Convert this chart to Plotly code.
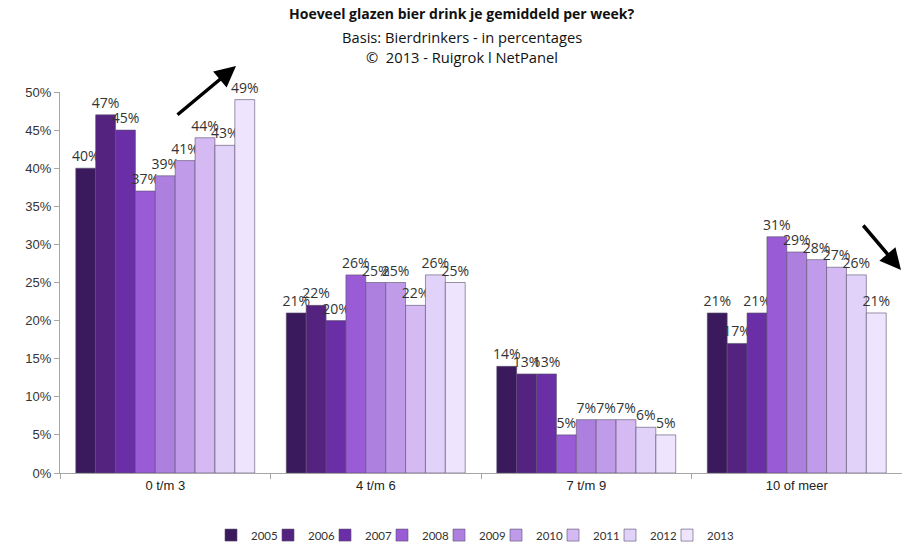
import plotly.graph_objects as go

categories = ["0 t/m 3", "4 t/m 6", "7 t/m 9", "10 of meer"]
years = ["2005", "2006", "2007", "2008", "2009", "2010", "2011", "2012", "2013"]
v2005 = [40, 21, 14, 21]
v2006 = [47, 22, 13, 17]
v2007 = [45, 20, 13, 21]
v2008 = [37, 26, 5, 31]
v2009 = [39, 25, 7, 29]
v2010 = [41, 25, 7, 28]
v2011 = [44, 22, 7, 27]
v2012 = [43, 26, 6, 26]
v2013 = [49, 25, 5, 21]
series = [v2005, v2006, v2007, v2008, v2009, v2010, v2011, v2012, v2013]
colors = ["#3a1a5c", "#53237f", "#6a2ea6", "#9a5cd6", "#ad80e0",
          "#c09be9", "#d5b9f3", "#e1d2fa", "#eee4fd"]
y_ticks = [0, 5, 10, 15, 20, 25, 30, 35, 40, 45, 50]

fig = go.Figure()
for yr, vals, col in zip(years, series, colors):
    fig.add_trace(go.Bar(
        name=yr, x=categories, y=vals,
        marker=dict(color=col, line=dict(color="rgba(90,80,110,0.6)", width=1)),
        text=[f"{v}%" for v in vals], textposition="outside",
        textfont=dict(family="Open Sans, Lato, sans-serif", size=14, color="#333333"),
        constraintext="none", cliponaxis=False,
    ))
# spacer entry so the last legend label is not clipped
fig.add_trace(go.Scatter(x=[None], y=[None], mode="markers", name=" ",
                         marker=dict(color="rgba(0,0,0,0)"), hoverinfo="skip"))

fig.update_layout(
    width=902, height=543,
    margin=dict(l=60, r=0, t=92, b=70, autoexpand=False),
    barmode="group", bargap=0.15, bargroupgap=0,
    plot_bgcolor="white", paper_bgcolor="white",
    font=dict(family="Open Sans, sans-serif", color="#333333"),
    xaxis=dict(showline=True, linecolor="#a6a6a6", linewidth=1,
               ticks="outside", tickson="boundaries", ticklen=5, tickcolor="#a6a6a6",
               tickfont=dict(family="Liberation Sans, Arial, sans-serif", size=13, color="#222222"),
               showgrid=False, automargin=False),
    yaxis=dict(range=[0, 50], tickvals=y_ticks, ticktext=[f"{t}%" for t in y_ticks],
               showline=True, linecolor="#a6a6a6", linewidth=1,
               ticks="outside", ticklen=5, tickcolor="#a6a6a6",
               tickfont=dict(family="Liberation Sans, Arial, sans-serif", size=13, color="#333333"),
               showgrid=False, zeroline=False, automargin=False),
    legend=dict(orientation="h", x=(211 - 60) / 842, xanchor="left", y=-0.163, yanchor="middle",
                font=dict(family="Lato, sans-serif", size=11.5, color="#333333"),
                itemwidth=30, entrywidth=12, traceorder="normal"),
    showlegend=True,
)

cx = (462 - 60) / 842
fig.add_annotation(xref="paper", yref="paper", x=cx, y=1 + (92 - 14) / 381,
                   text="<b>Hoeveel glazen bier drink je gemiddeld per week?</b>",
                   showarrow=False, font=dict(size=14, color="#111111"), xanchor="center", yanchor="middle")
fig.add_annotation(xref="paper", yref="paper", x=cx, y=1 + (92 - 37) / 381,
                   text="Basis: Bierdrinkers - in percentages",
                   showarrow=False, font=dict(size=14.7, color="#111111"), xanchor="center", yanchor="middle")
fig.add_annotation(xref="paper", yref="paper", x=cx, y=1 + (92 - 57) / 381,
                   text="©  2013 - Ruigrok l NetPanel",
                   showarrow=False, font=dict(size=14.7, color="#111111"), xanchor="center", yanchor="middle")

# trend arrows
fig.add_annotation(xref="paper", yref="paper", x=(236 - 60) / 842, y=(473 - 66) / 381,
                   ax=-60, ay=50, text="", showarrow=True, arrowhead=2, arrowsize=1.2,
                   arrowwidth=3.5, arrowcolor="black")
fig.add_annotation(xref="paper", yref="paper", x=(904 - 60) / 842, y=(473 - 270) / 381,
                   ax=-42, ay=-46, text="", showarrow=True, arrowhead=2, arrowsize=1.2,
                   arrowwidth=3.5, arrowcolor="black")

fig.write_html("out.html", config={"displayModeBar": False},
               post_script="document.body.style.margin='0';")
